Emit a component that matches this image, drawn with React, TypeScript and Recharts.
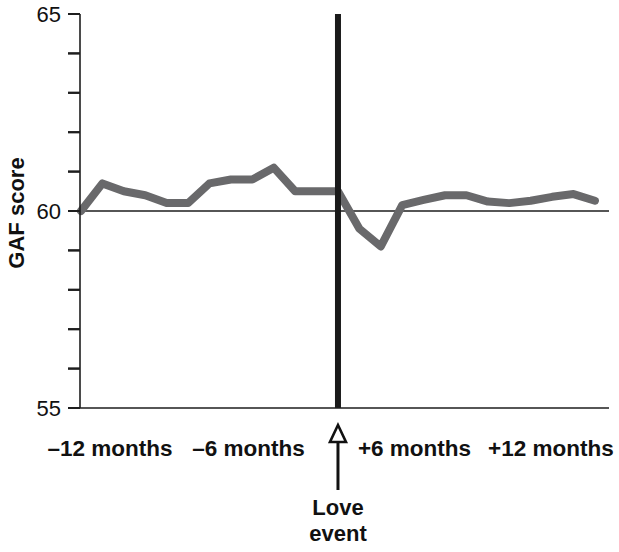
import React from 'react';
import { LineChart, Line, XAxis, YAxis, ReferenceLine, Label } from 'recharts';

// ---- data ----
const months = [-12, -11, -10, -9, -8, -7, -6, -5, -4, -3, -2, -1, 0, 1, 2, 3, 4, 5, 6, 7, 8, 9, 10, 11, 12];
const gafScores = [60.0, 60.7, 60.5, 60.4, 60.2, 60.2, 60.7, 60.8, 60.8, 61.1, 60.5, 60.5, 60.5, 59.55, 59.1, 60.15, 60.28, 60.4, 60.4, 60.24, 60.2, 60.26, 60.36, 60.43, 60.26];
const xTickValues = [-12, -6, 6, 12];
const xTickLabels = ['\u201312 months', '\u20136 months', '+6 months', '+12 months'];
const yTicks = [55, 56, 57, 58, 59, 60, 61, 62, 63, 64, 65];
const yLabelled = [55, 60, 65];
const eventMonth = 0;
const baselineScore = 60;
const eventLabel = ['Love', 'event'];
const yAxisTitle = 'GAF score';

const data = months.map((m, i) => ({ month: m, gaf: gafScores[i] }));

// ---- styles ----
const FONT = '"Liberation Sans", Arial, Helvetica, sans-serif';
const AXIS = '#1e1e1e';
const AXIS_X = 80;
const labelDx = [29, 39, -52, -44];

const XTick = (props: any) => {
  const { x, y, payload } = props;
  const i = xTickValues.indexOf(payload.value);
  if (i < 0) return null;
  return (
    <text x={x + labelDx[i]} y={y + 48} textAnchor="middle" fontFamily={FONT} fontWeight="bold" fontSize={22.5} fill="#111">
      {xTickLabels[i]}
    </text>
  );
};

const YTick = (props: any) => {
  const { y, payload } = props;
  const v = payload.value;
  return (
    <g>
      <line x1={AXIS_X - 12} y1={y} x2={AXIS_X} y2={y} stroke={AXIS} strokeWidth={2} />
      {yLabelled.indexOf(v) >= 0 ? (
        <text x={AXIS_X - 19} y={y} dy="0.36em" textAnchor="end" fontFamily={FONT} fontSize={22} fill="#111">
          {String(v)}
        </text>
      ) : null}
    </g>
  );
};

const EventMarker = (props: any) => {
  const vb = props.viewBox || {};
  const cx = vb.x;
  const bottom = vb.y + vb.height;
  const tipY = bottom + 17;
  const headY = tipY + 17;
  return (
    <g>
      <line x1={cx} y1={headY} x2={cx} y2={bottom + 82} stroke="#111" strokeWidth={3} />
      <polygon points={`${cx},${tipY} ${cx - 8},${headY} ${cx + 8},${headY}`} fill="#fff" stroke="#111" strokeWidth={2.6} strokeLinejoin="miter" />
      <text x={cx} y={bottom + 107} textAnchor="middle" fontFamily={FONT} fontWeight="bold" fontSize={22} fill="#111">{eventLabel[0]}</text>
      <text x={cx} y={bottom + 133} textAnchor="middle" fontFamily={FONT} fontWeight="bold" fontSize={22} fill="#111">{eventLabel[1]}</text>
    </g>
  );
};

const YTitle = (props: any) => {
  const vb = props.viewBox || {};
  const cy = vb.y + vb.height / 2 + 2;
  const cx = 16;
  return (
    <text x={cx} y={cy} transform={`rotate(-90, ${cx}, ${cy})`} textAnchor="middle" dominantBaseline="central" fontFamily={FONT} fontWeight="bold" fontSize={22} fill="#111">
      {yAxisTitle}
    </text>
  );
};

export default function App() {
  return (
    <div style={{ position: 'absolute', left: 0, top: 0, width: 619, height: 552, background: '#fff' }}>
      <LineChart width={619} height={552} data={data} margin={{ top: 14, right: 10, left: 0, bottom: 114 }}>
        <XAxis
          dataKey="month"
          type="number"
          domain={[-12.047, 12.656]}
          ticks={xTickValues}
          interval={0}
          tick={<XTick />}
          tickLine={false}
          tickSize={0}
          tickMargin={0}
          height={30}
          axisLine={{ stroke: AXIS, strokeWidth: 1.6 }}
        />
        <YAxis
          type="number"
          domain={[55, 65]}
          ticks={yTicks}
          interval={0}
          width={80}
          tickSize={12}
          tickMargin={6}
          tick={<YTick />}
          tickLine={{ stroke: AXIS, strokeWidth: 2 }}
          axisLine={{ stroke: AXIS, strokeWidth: 1.6 }}
        >
          <Label content={<YTitle />} />
        </YAxis>
        <ReferenceLine y={baselineScore} stroke={AXIS} strokeWidth={1.6} />
        <Line
          type="linear"
          dataKey="gaf"
          stroke="#69696b"
          strokeWidth={8}
          strokeLinejoin="round"
          strokeLinecap="round"
          dot={false}
          activeDot={false}
          isAnimationActive={false}
        />
        <ReferenceLine x={eventMonth} stroke="#1a1a1a" strokeWidth={6} label={<EventMarker />} />
      </LineChart>
    </div>
  );
}
